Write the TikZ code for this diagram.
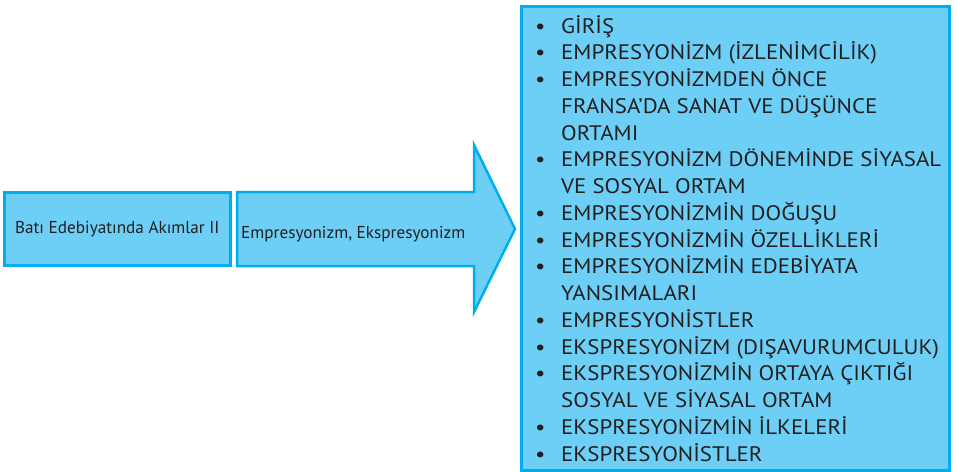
\documentclass[tikz,border=0pt]{standalone}
\usepackage{fontspec}
\setmainfont{PT Sans}
\newfontfamily\listfont[FakeStretch=1.09]{PT Sans}
\usepackage{array}
\usetikzlibrary{positioning}
\definecolor{boxfill}{RGB}{109,207,246}
\definecolor{boxline}{RGB}{0,174,239}
\definecolor{txtgray}{RGB}{35,31,32}
\newcommand{\itm}[1]{\textbullet & #1\\}
\newcommand{\cnt}[1]{ & #1\\}

\begin{document}
\begin{tikzpicture}[
  x=1pt,y=-1pt,
  every node/.style={text=txtgray,inner sep=0pt},
  box/.style={draw=boxline,fill=boxfill,line width=2.5pt},
  small/.style={font=\fontsize{17.2}{20}\selectfont},
  big/.style={font=\listfont\fontsize{21}{26.75}\selectfont}
]
\useasboundingbox (0,0) rectangle (957,471);

% Course title.
\node[box,small,anchor=north west,minimum width=226pt,minimum height=73pt]
     (title) at (3,191) {Batı Edebiyatında Akımlar II};

% Arrow with the unit topic.
\draw[box,line join=miter] (237,192) -- (474,192) -- (474,145) -- (515,229)
  -- (474,312) -- (474,266) -- (237,266) -- cycle;
\node[small,anchor=base west] (topic) at (241,238) {Empresyonizm, Ekspresyonizm};

% Contents box.
\node[box,anchor=north west,minimum width=428pt,minimum height=464pt]
     (contents) at (520,5) {};
\node[big,anchor=base west,align=left] (items) at (535,33) {%
  \begin{tabular}[t]{@{}p{26pt}@{}l@{}}
  \itm{GİRİŞ}
  \itm{EMPRESYONİZM (İZLENİMCİLİK)}
  \itm{EMPRESYONİZMDEN ÖNCE}
  \cnt{FRANSA’DA SANAT VE DÜŞÜNCE}
  \cnt{ORTAMI}
  \itm{EMPRESYONİZM DÖNEMİNDE SİYASAL}
  \cnt{VE SOSYAL ORTAM}
  \itm{EMPRESYONİZMİN DOĞUŞU}
  \itm{EMPRESYONİZMİN ÖZELLİKLERİ}
  \itm{EMPRESYONİZMİN EDEBİYATA}
  \cnt{YANSIMALARI}
  \itm{EMPRESYONİSTLER}
  \itm{EKSPRESYONİZM (DIŞAVURUMCULUK)}
  \itm{EKSPRESYONİZMİN ORTAYA ÇIKTIĞI}
  \cnt{SOSYAL VE SİYASAL ORTAM}
  \itm{EKSPRESYONİZMİN İLKELERİ}
  \itm{EKSPRESYONİSTLER}
  \end{tabular}};
\end{tikzpicture}
\end{document}
